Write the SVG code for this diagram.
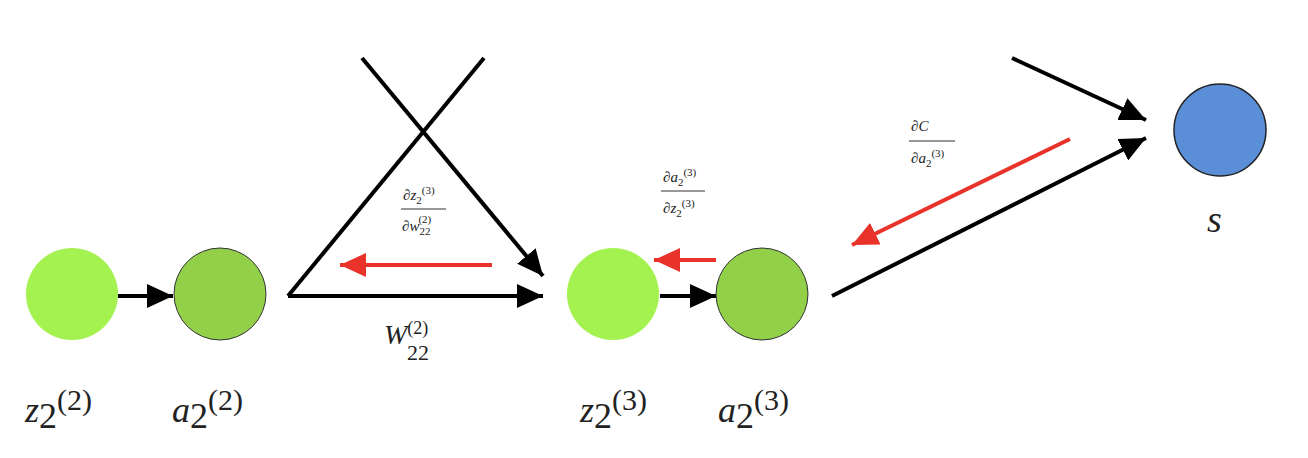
<svg xmlns="http://www.w3.org/2000/svg" width="1308" height="458" viewBox="0 0 1308 458">
<style>
.k{stroke:#000;stroke-width:4;fill:none}
.r{stroke:#e8322a;stroke-width:4;fill:none}
.t{font-family:"Liberation Serif",serif;fill:#222}
.i{font-style:italic}
</style>
<defs>
<marker id="ak" markerUnits="userSpaceOnUse" markerWidth="28" markerHeight="24" refX="26" refY="12" orient="auto"><path d="M0,0L26,12L0,24z" fill="#000"/></marker>
<marker id="ar" markerUnits="userSpaceOnUse" markerWidth="28" markerHeight="24" refX="26" refY="12" orient="auto"><path d="M0,0L26,12L0,24z" fill="#e8322a"/></marker>
</defs>
<rect width="1308" height="458" fill="#fff"/>
<g id="connectors">
<line class="k" x1="118" y1="296" x2="173" y2="296" marker-end="url(#ak)"/>
<line class="k" x1="288" y1="296" x2="543" y2="296" marker-end="url(#ak)"/>
<line class="k" x1="288" y1="296" x2="484" y2="58"/>
<line class="k" x1="362" y1="58" x2="543" y2="276" marker-end="url(#ak)"/>
<line class="k" x1="660" y1="296" x2="716" y2="296" marker-end="url(#ak)"/>
<line class="k" x1="832" y1="296" x2="1146" y2="138" marker-end="url(#ak)"/>
<line class="k" x1="1012" y1="58" x2="1146" y2="120" marker-end="url(#ak)"/>
<line class="r" x1="492" y1="265" x2="340" y2="265" marker-end="url(#ar)"/>
<line class="r" x1="716" y1="260" x2="654" y2="260" marker-end="url(#ar)"/>
<line class="r" x1="1070" y1="139" x2="852" y2="245" marker-end="url(#ar)"/>
</g>
<g id="z22"><circle cx="72" cy="294" r="46" fill="#a3f24f"/><text class="t" x="25" y="422" font-size="36"><tspan class="i">z</tspan><tspan dy="6">2</tspan><tspan dy="-18" font-size="30">(2)</tspan></text></g>
<g id="a22"><circle cx="220" cy="294" r="46" fill="#92d04a" stroke="#333" stroke-width="1"/><text class="t" x="172" y="422" font-size="36"><tspan class="i">a</tspan><tspan dy="6">2</tspan><tspan dy="-18" font-size="30">(2)</tspan></text></g>
<g id="z23"><circle cx="613" cy="294" r="46" fill="#a3f24f"/><text class="t" x="580" y="422" font-size="36"><tspan class="i">z</tspan><tspan dy="6">2</tspan><tspan dy="-18" font-size="30">(3)</tspan></text></g>
<g id="a23"><circle cx="762" cy="294" r="46" fill="#92d04a" stroke="#333" stroke-width="1"/><text class="t" x="718" y="422" font-size="36"><tspan class="i">a</tspan><tspan dy="6">2</tspan><tspan dy="-18" font-size="30">(3)</tspan></text></g>
<g id="s"><circle cx="1220" cy="130" r="46" fill="#5a8fd8" stroke="#222" stroke-width="1.5"/><text class="t i" x="1207" y="232" font-size="38">s</text></g>
<g id="w"><text class="t" x="384" y="344" font-size="28"><tspan class="i">W</tspan><tspan font-size="18" dy="-10">(2)</tspan><tspan x="407" dy="26" font-size="22">22</tspan></text></g>
<g id="f1" class="t" font-size="15">
<text x="403" y="200"><tspan class="i">∂z</tspan><tspan font-size="11" dy="4">2</tspan><tspan font-size="11" dy="-10">(3)</tspan></text>
<line x1="401" y1="209" x2="446" y2="209" stroke="#333" stroke-width="1"/>
<text x="402" y="231"><tspan class="i">∂w</tspan><tspan font-size="11" dy="4">22</tspan><tspan font-size="11" dx="-12" dy="-12">(2)</tspan></text>
</g>
<g id="f2" class="t" font-size="15">
<text x="663" y="182"><tspan class="i">∂a</tspan><tspan font-size="11" dy="4">2</tspan><tspan font-size="11" dy="-10">(3)</tspan></text>
<line x1="661" y1="191" x2="705" y2="191" stroke="#333" stroke-width="1"/>
<text x="663" y="213"><tspan class="i">∂z</tspan><tspan font-size="11" dy="4">2</tspan><tspan font-size="11" dy="-10">(3)</tspan></text>
</g>
<g id="f3" class="t" font-size="15">
<text x="911" y="131" class="i">∂C</text>
<line x1="909" y1="141" x2="955" y2="141" stroke="#333" stroke-width="1"/>
<text x="911" y="163"><tspan class="i">∂a</tspan><tspan font-size="11" dy="4">2</tspan><tspan font-size="11" dy="-10">(3)</tspan></text>
</g>
</svg>
